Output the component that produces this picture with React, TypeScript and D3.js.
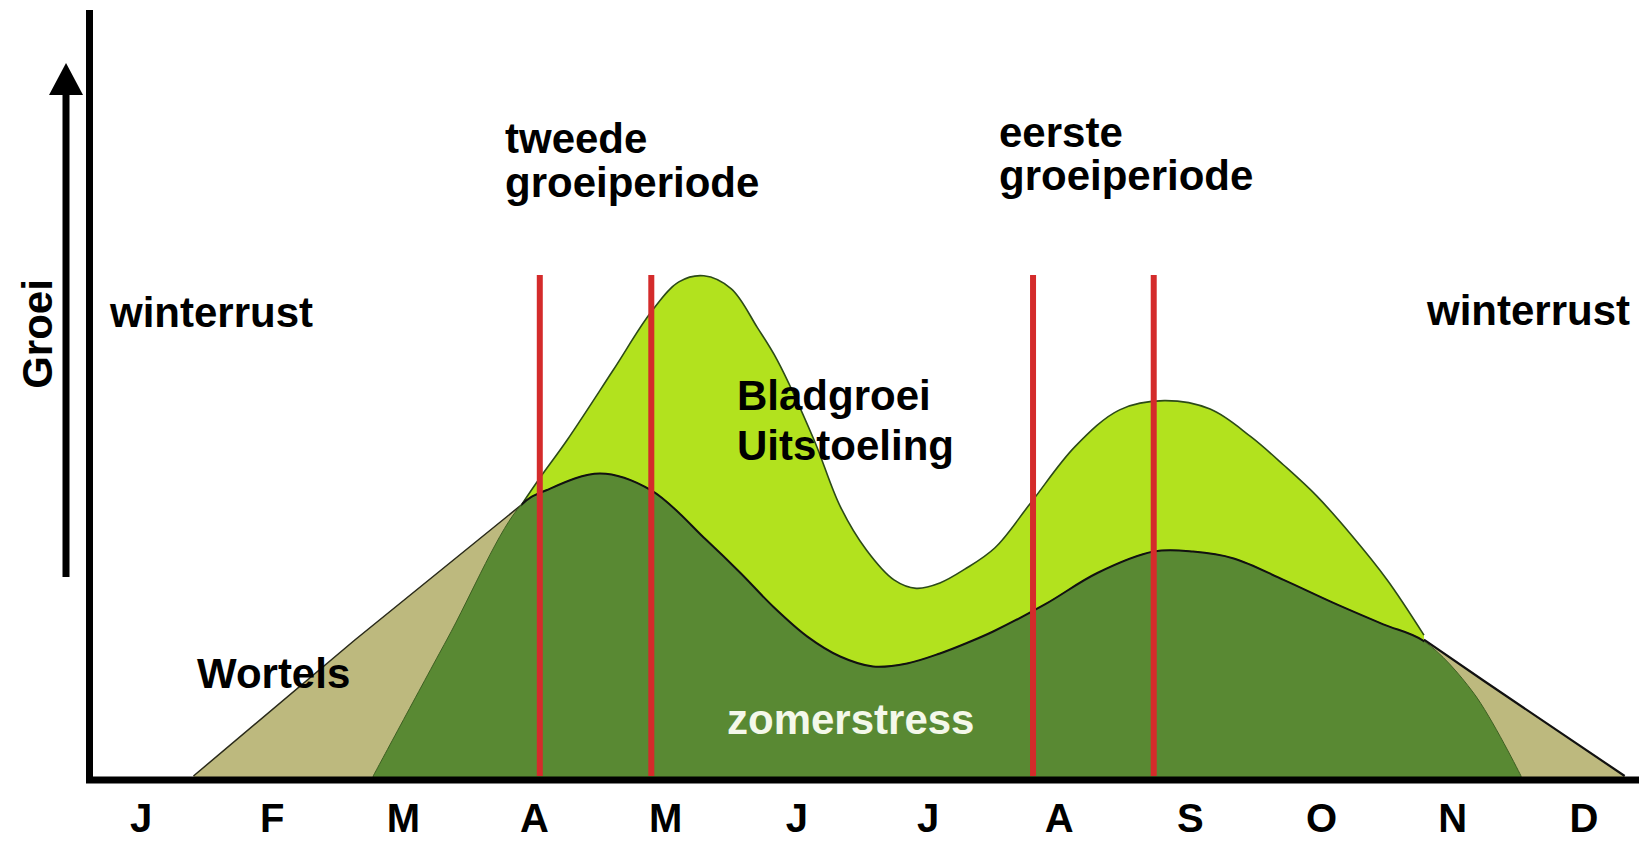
import * as d3 from 'd3';
import { useEffect, useRef } from 'react';

const months = ['J', 'F', 'M', 'A', 'M', 'J', 'J', 'A', 'S', 'O', 'N', 'D'];

// x = month (0 = januari), y = relatieve groei (0-100)
const wortels: [number, number][] = [
  [0.40, 0], [1.63, 17.75], [2.90, 35.4], [4.0, 28], [5.6, 10],
  [7.7, 18], [9.78, 17.8], [10.23, 12.5], [11.31, 0],
];

// bovenrand van de bladgroei
const bladgroei: [number, number][] = [
  [2.90, 35.4], [3.04, 38.9], [3.25, 43.9], [3.60, 53.0], [3.89, 60.6],
  [4.10, 64.5], [4.29, 65.3], [4.50, 63.6], [4.70, 58.5], [4.85, 54.3], [5.13, 43.9],
  [5.33, 35.2], [5.53, 29.5], [5.74, 25.6], [5.91, 24.5], [6.09, 25.2],
  [6.28, 27.0], [6.51, 29.8], [6.78, 35.6], [7.12, 43.0], [7.46, 47.8],
  [7.80, 49.0], [8.15, 47.9], [8.46, 44.3], [8.71, 40.6],
  [8.96, 36.6], [9.22, 31.6], [9.50, 25.6], [9.78, 18.4],
];

const zomerstress: [number, number][] = [
  [1.77, 0], [2.33, 17.75], [2.90, 35.4], [3.09, 37.3], [3.50, 39.5],
  [3.89, 37.3], [4.31, 30.8], [4.57, 26.5], [4.82, 22.1], [5.08, 18.2],
  [5.33, 15.6], [5.58, 14.3], [5.84, 14.7], [6.09, 16.0], [6.30, 17.4],
  [6.50, 18.9], [6.89, 22.4], [7.29, 26.5], [7.72, 29.3], [8.02, 29.3],
  [8.33, 28.4], [8.71, 25.6], [9.09, 22.6], [9.47, 19.8], [9.78, 17.6],
  [10.16, 10.8], [10.52, 0],
];

// grenzen van de groeiperiodes
const periodLines = [3.04, 3.89, 6.80, 7.72];

const W = 1639;
const H = 843;

export default function App() {
  const svgRef = useRef<SVGSVGElement>(null);

  useEffect(() => {
    drawChart(svgRef.current!);
  }, [svgRef]);

  return (
    <svg
      ref={svgRef}
      width={W}
      height={H}
      style={{ position: 'absolute', left: 0, top: 0, background: '#fff' }}
    ></svg>
  );
}

function drawChart(el: SVGSVGElement) {
  const svg = d3.select(el);
  svg.selectAll('*').remove();
  svg.attr('font-family', '"Liberation Sans", Arial, sans-serif').attr('font-weight', 'bold');

  const x = d3.scaleLinear().domain([0, 11]).range([141, 1584]);
  const y = d3.scaleLinear().domain([0, 100]).range([776, 10]);

  const smooth = d3.curveCatmullRom.alpha(0.5);

  const areaLinear = d3.area<[number, number]>()
    .x(d => x(d[0]))
    .y0(y(0) + 2)
    .y1(d => y(d[1]));
  const areaSmooth = d3.area<[number, number]>()
    .x(d => x(d[0]))
    .y0(y(0) + 2)
    .y1(d => y(d[1]))
    .curve(smooth);
  const lineLinear = d3.line<[number, number]>().x(d => x(d[0])).y(d => y(d[1]));
  const lineSmooth = d3.line<[number, number]>()
    .x(d => x(d[0]))
    .y(d => y(d[1]))
    .curve(smooth);

  // alleen de bovenrand van de zomerstress-vorm krijgt de zwarte lijn
  svg.append('defs').append('clipPath').attr('id', 'topEdge')
    .append('rect')
    .attr('x', x(2.90)).attr('y', 0)
    .attr('width', x(9.78) - x(2.90)).attr('height', H);

  // Wortels
  svg.append('path').attr('d', areaLinear(wortels)).attr('fill', '#bdb97e');
  svg.append('path').attr('d', lineLinear(wortels.slice(0, 3)))
    .attr('fill', 'none').attr('stroke', '#2a2a1a').attr('stroke-width', 1.5);

  // Bladgroei
  svg.append('path').attr('d', areaSmooth(bladgroei)).attr('fill', '#b2e21e');
  svg.append('path').attr('d', lineSmooth(bladgroei))
    .attr('fill', 'none').attr('stroke', '#2c4a18').attr('stroke-width', 1.6);

  // zomerstress / uitstoeling
  svg.append('path').attr('d', areaSmooth(zomerstress)).attr('fill', '#598933')
    .attr('stroke', '#3d5f22').attr('stroke-width', 1);
  svg.append('path').attr('d', lineSmooth(zomerstress))
    .attr('fill', 'none').attr('stroke', '#111').attr('stroke-width', 2)
    .attr('clip-path', 'url(#topEdge)');
  svg.append('path').attr('d', lineLinear(wortels.slice(6)))
    .attr('fill', 'none').attr('stroke', '#111').attr('stroke-width', 2.2);

  // rode lijnen
  svg.selectAll('line.period')
    .data(periodLines)
    .enter()
    .append('line')
    .attr('class', 'period')
    .attr('x1', d => x(d)).attr('x2', d => x(d))
    .attr('y1', 275).attr('y2', y(0))
    .attr('stroke', '#d42b2b').attr('stroke-width', 6);

  // assen
  svg.append('line').attr('x1', 89.5).attr('x2', 89.5).attr('y1', 10).attr('y2', 783)
    .attr('stroke', '#000').attr('stroke-width', 7);
  svg.append('line').attr('x1', 86).attr('x2', W).attr('y1', 780).attr('y2', 780)
    .attr('stroke', '#000').attr('stroke-width', 7);

  // pijl
  svg.append('line').attr('x1', 66).attr('x2', 66).attr('y1', 92).attr('y2', 577)
    .attr('stroke', '#000').attr('stroke-width', 7);
  svg.append('path').attr('d', 'M66,63 L83,95 L49,95 Z').attr('fill', '#000');

  svg.append('text')
    .attr('transform', 'translate(52,334) rotate(-90)')
    .attr('text-anchor', 'middle')
    .attr('font-size', 42)
    .text('Groei');

  // maanden
  svg.selectAll('text.month')
    .data(months)
    .enter()
    .append('text')
    .attr('class', 'month')
    .attr('x', (d, i) => x(i))
    .attr('y', 832)
    .attr('text-anchor', 'middle')
    .attr('font-size', 40)
    .text(d => d);

  const label = (t: string, lx: number, ly: number, fill = '#000') =>
    svg.append('text').attr('x', lx).attr('y', ly).attr('font-size', 42).attr('fill', fill).text(t);

  label('winterrust', 110, 327);
  label('winterrust', 1427, 325);
  label('tweede', 505, 153);
  label('groeiperiode', 505, 197);
  label('eerste', 999, 147);
  label('groeiperiode', 999, 190);
  label('Bladgroei', 737, 410);
  label('Uitstoeling', 737, 460);
  label('Wortels', 197, 688);
  label('zomerstress', 727, 734, '#f4f8ea');
}
